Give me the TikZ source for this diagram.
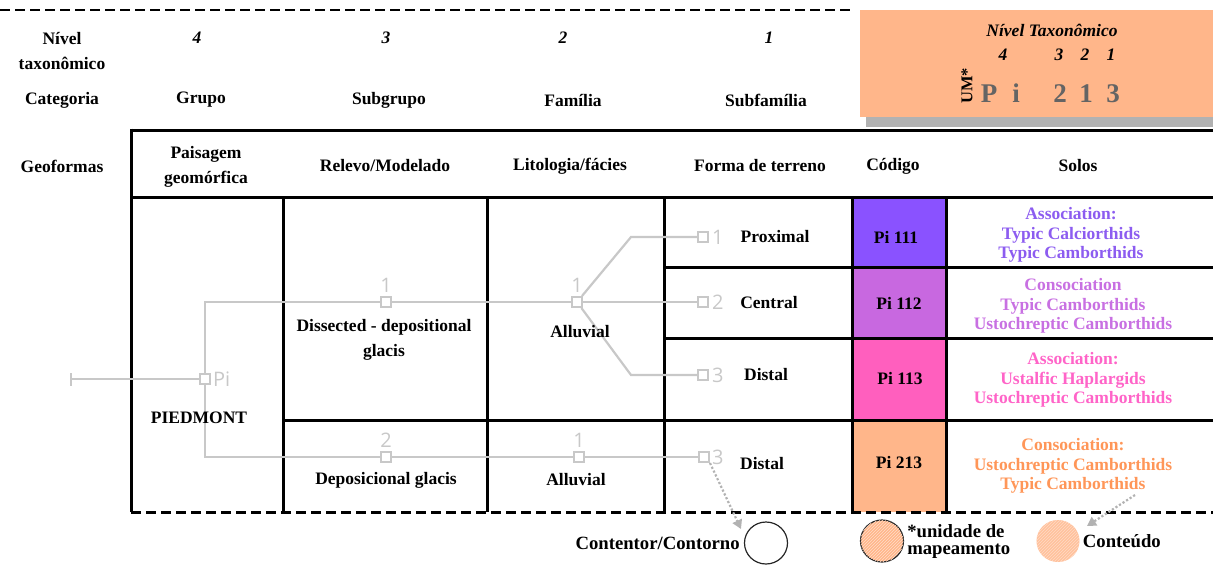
\documentclass[tikz,border=0pt]{standalone}
\usepackage{fontspec}
\setmainfont{Liberation Serif}
\newfontfamily\treefont{Open Sans}
\usetikzlibrary{arrows.meta, positioning, patterns, shapes.geometric}

\definecolor{peach}{RGB}{255,182,138}
\definecolor{codeviolet}{RGB}{138,82,255}
\definecolor{codeorchid}{RGB}{200,104,224}
\definecolor{codepink}{RGB}{255,95,190}
\definecolor{soilviolet}{RGB}{140,92,240}
\definecolor{soilorchid}{RGB}{200,112,226}
\definecolor{soilpink}{RGB}{255,100,200}
\definecolor{soilorange}{RGB}{255,150,88}
\definecolor{treegray}{RGB}{200,200,200}
\definecolor{bigcode}{RGB}{100,100,100}

\begin{document}
\begin{tikzpicture}[
    x=1pt, y=-1pt,
    every node/.style={font=\fontsize{17.5}{25}\selectfont\bfseries, align=center, inner sep=1pt},
    grid/.style={line width=3pt},
    hdrnum/.style={font=\fontsize{17.5}{21}\selectfont\bfseries\itshape},
    soil/.style={font=\fontsize{17.5}{19.5}\selectfont\bfseries},
    leaf/.style={rectangle, draw=treegray, fill=white, line width=2pt, minimum size=10pt, inner sep=0pt},
    branch/.style={draw=treegray, line width=2.2pt},
    tag/.style={text=treegray, font=\fontsize{20}{20}\selectfont\treefont},
    pointer/.style={draw=gray!60, dotted, line width=2.2pt, -{Triangle[length=9pt,width=10pt]}},
    blob/.style={ellipse, minimum width=43pt, minimum height=42pt, inner sep=0pt},
    legend/.style={font=\fontsize{18.7}{17}\selectfont\bfseries},
    bigchar/.style={anchor=base, text=bigcode, font=\fontsize{27}{30}\selectfont\bfseries},
]
\useasboundingbox (0,0) rectangle (1213,566);

% code box, top right
\fill[gray!60] (866,20) rectangle (1213,127);
\fill[peach] (860,10) rectangle (1213,117);
\node[hdrnum] (nivelbox) at (1052,30) {Nível Taxonômico};
\node[hdrnum] (n4) at (1003,55) {4};
\node[hdrnum] (n3) at (1059,55) {3};
\node[hdrnum] (n2) at (1085,55) {2};
\node[hdrnum] (n1) at (1111,55) {1};
\node[rotate=90, font=\fontsize{16.5}{18}\selectfont\bfseries] (um) at (967,86) {UM*};
\node[bigchar] (bP) at (989,102) {P};
\node[bigchar] (bi) at (1016,102) {i};
\node[bigchar] (b2) at (1060,102) {2};
\node[bigchar] (b1) at (1086,102) {1};
\node[bigchar] (b3) at (1113,102) {3};

\draw[line width=2.6pt, dash pattern=on 10pt off 5pt] (0,10) -- (852,10);

% header rows
\node (nivel) at (62,51) {Nível\\taxonômico};
\node[hdrnum] (lv4) at (197,38) {4};
\node[hdrnum] (lv3) at (386,38) {3};
\node[hdrnum] (lv2) at (563,38) {2};
\node[hdrnum] (lv1) at (769,38) {1};
\node (categoria) at (62,100) {Categoria};
\node (grupo) at (201,100) {Grupo};
\node (subgrupo) at (389,100) {Subgrupo};
\node (familia) at (573,100) {Família};
\node (subfamilia) at (766,100) {Subfamília};
\node (geoformas) at (62,166) {Geoformas};
\node (paisagem) at (206,167) {Paisagem\\geomórfica};
\node (relevo) at (385,166) {Relevo/Modelado};
\node (litologia) at (570,166) {Litologia/fácies};
\node (forma) at (760,166) {Forma de terreno};
\node (codigo) at (893,166) {Código};
\node (solos) at (1078,166) {Solos};

% code cells
\fill[codeviolet] (852,197) rectangle (946,267);
\fill[codeorchid] (852,267) rectangle (946,338);
\fill[codepink] (852,338) rectangle (946,420);
\fill[peach] (852,420) rectangle (946,512);

% table grid
\draw[grid] (131,130) -- (1213,130);
\draw[grid] (131,197) -- (1213,197);
\draw[grid] (131,128.5) -- (131,512);
\foreach \x in {283,487,664,852,946}
    \draw[grid] (\x,197) -- (\x,512);
\draw[grid] (283,420) -- (1213,420);
\foreach \y in {267,338}
    \draw[grid] (664,\y) -- (1213,\y);
\draw[grid, dash pattern=on 10pt off 5pt] (131,512) -- (1213,512);

% tree overlay
\coordinate (rootend) at (70,379);
\node[leaf] (pi) at (205,379) {};
\node[tag, right=1pt of pi] (pitag) {Pi};
\node[leaf] (rel1) at (386,302) {};
\node[tag, above=2pt of rel1] (rel1tag) {1};
\node[leaf] (rel2) at (386,457) {};
\node[tag, above=2pt of rel2] (rel2tag) {2};
\node[leaf] (lit1) at (577,302) {};
\node[tag, above=2pt of lit1] (lit1tag) {1};
\node[leaf] (lit2) at (579,457) {};
\node[tag, above=2pt of lit2] (lit2tag) {1};
\node[leaf] (leaf1) at (703,237) {};
\node[tag, right=2pt of leaf1] (leaf1tag) {1};
\node[leaf] (leaf2) at (703,302) {};
\node[tag, right=2pt of leaf2] (leaf2tag) {2};
\node[leaf] (leaf3) at (703,375) {};
\node[tag, right=2pt of leaf3] (leaf3tag) {3};
\node[leaf] (leaf4) at (704,457) {};
\node[tag, right=1pt of leaf4] (leaf4tag) {3};
\coordinate (bendup) at (631,237);
\coordinate (benddown) at (631,375);

\draw[branch, {Bar[width=13pt]}-] (rootend) -- (pi);
\draw[branch] (pi) |- (rel1);
\draw[branch] (pi) |- (rel2);
\draw[branch] (rel1) -- (lit1);
\draw[branch] (rel2) -- (lit2);
\draw[branch] (lit2) -- (leaf4);
\draw[branch] (lit1) -- (bendup) -- (leaf1);
\draw[branch] (lit1) -- (leaf2);
\draw[branch] (lit1) -- (benddown) -- (leaf3);

% cell texts
\node (piedmont) at (199,418) {PIEDMONT};
\node (dissected) at (384,340) {Dissected - depositional\\glacis};
\node (deposicional) at (386,480) {Deposicional glacis};
\node (alluvial1) at (580,332) {Alluvial};
\node (alluvial2) at (576,480) {Alluvial};
\node (proximal) at (775,237) {Proximal};
\node (central) at (769,303) {Central};
\node (distal1) at (766,375) {Distal};
\node (distal2) at (762,464) {Distal};
\node (pi111) at (896,237) {Pi 111};
\node (pi112) at (899,303) {Pi 112};
\node (pi113) at (900,379) {Pi 113};
\node (pi213) at (899,463) {Pi 213};
\node[soil, text=soilviolet] (soil1) at (1071,235) {Association:\\Typic Calciorthids\\Typic Camborthids};
\node[soil, text=soilorchid] (soil2) at (1073,306) {Consociation\\Typic Camborthids\\Ustochreptic Camborthids};
\node[soil, text=soilpink] (soil3) at (1073,380) {Association:\\Ustalfic Haplargids\\Ustochreptic Camborthids};
\node[soil, text=soilorange] (soil4) at (1073,466) {Consociation:\\Ustochreptic Camborthids\\Typic Camborthids};

% legend
\node[blob, draw=black!85, line width=1.2pt] (contentor) at (766,543) {};
\node[legend, left=3pt of contentor] (contentorlbl) {Contentor/Contorno};
\node[blob, draw=black!85, line width=1.2pt, fill=peach,
    postaction={pattern=north east lines, pattern color=white!55!peach}] (unidade) at (882,541) {};
\node[legend, right=2pt of unidade, align=left] (unidadelbl) {*unidade de\\mapeamento};
\node[blob, fill=peach!85, postaction={pattern=north east lines, pattern color=white!50!peach}] (conteudo) at (1058,541) {};
\node[legend, right=2pt of conteudo] (conteudolbl) {Conteúdo};

\coordinate (tipcontentor) at (741,529);
\coordinate (startsolo) at (1135,495);
\coordinate (tipsolo) at (1087,526);
\draw[pointer] (leaf4.south east) -- (tipcontentor);
\draw[pointer] (startsolo) -- (tipsolo);
\end{tikzpicture}
\end{document}
